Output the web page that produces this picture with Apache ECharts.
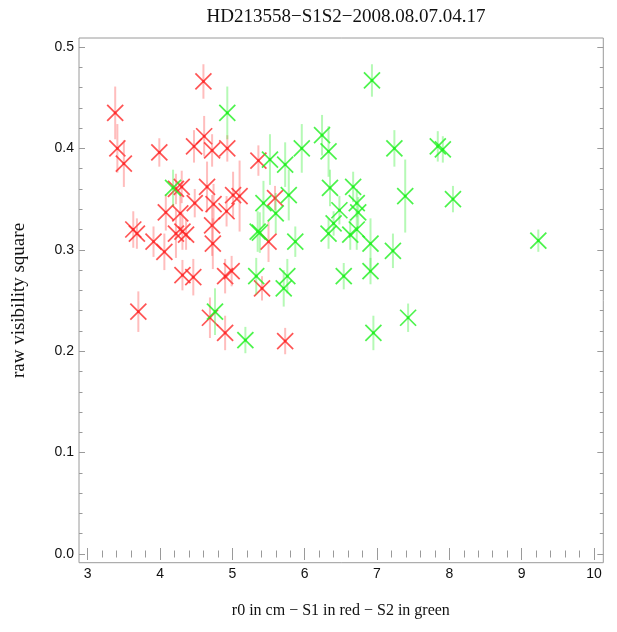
<!DOCTYPE html>
<html>
<head>
<meta charset="utf-8">
<script src="https://cdn.jsdelivr.net/npm/echarts@6/dist/echarts.min.js"></script>
<style>html,body{margin:0;padding:0;background:#fff;}#c{width:617px;height:632px;}</style>
</head>
<body>
<div id="c"></div>
<script>
// S1 (red): r0 in cm, raw visibility square, error half-length
var s1X = [3.38, 3.41, 3.50, 3.99, 4.60, 4.47, 4.61, 4.72, 4.93, 5.36, 4.30, 4.22, 4.65, 4.48, 4.74, 5.01, 5.10, 4.08, 4.28, 4.92, 3.63, 3.68, 3.91, 4.06, 4.22, 4.31, 4.36, 4.72, 4.73, 4.31, 4.46, 4.90, 4.99, 3.70, 4.69, 4.90, 5.41, 5.50, 5.59, 5.73];
var s1Y = [0.435, 0.400, 0.385, 0.396, 0.466, 0.402, 0.412, 0.398, 0.400, 0.388, 0.362, 0.360, 0.362, 0.346, 0.345, 0.354, 0.353, 0.337, 0.336, 0.338, 0.320, 0.316, 0.308, 0.298, 0.316, 0.318, 0.315, 0.324, 0.306, 0.275, 0.273, 0.274, 0.279, 0.239, 0.233, 0.218, 0.262, 0.308, 0.351, 0.210];
var s1Err = [0.026, 0.024, 0.023, 0.014, 0.017, 0.016, 0.020, 0.016, 0.013, 0.015, 0.016, 0.015, 0.025, 0.014, 0.020, 0.023, 0.035, 0.018, 0.020, 0.015, 0.018, 0.015, 0.015, 0.018, 0.024, 0.018, 0.015, 0.030, 0.025, 0.015, 0.018, 0.017, 0.015, 0.020, 0.020, 0.017, 0.012, 0.020, 0.012, 0.013];
// S2 (green)
var s2X = [4.93, 4.18, 6.93, 5.52, 5.73, 5.96, 6.24, 6.33, 7.24, 7.84, 7.91, 7.39, 8.05, 9.23, 7.22, 5.43, 5.78, 6.35, 6.67, 6.48, 6.72, 6.74, 5.60, 6.40, 5.38, 5.35, 6.33, 6.63, 6.72, 5.87, 6.91, 5.33, 5.76, 5.71, 6.54, 6.91, 4.76, 5.18, 6.95, 7.43];
var s2Y = [0.435, 0.361, 0.467, 0.389, 0.384, 0.400, 0.413, 0.397, 0.400, 0.402, 0.399, 0.353, 0.350, 0.309, 0.299, 0.346, 0.354, 0.361, 0.362, 0.339, 0.346, 0.337, 0.336, 0.326, 0.317, 0.318, 0.316, 0.315, 0.320, 0.308, 0.306, 0.274, 0.274, 0.262, 0.274, 0.279, 0.239, 0.211, 0.218, 0.233];
var s2Err = [0.026, 0.018, 0.016, 0.025, 0.022, 0.024, 0.020, 0.025, 0.018, 0.015, 0.013, 0.036, 0.013, 0.011, 0.017, 0.022, 0.025, 0.018, 0.015, 0.014, 0.014, 0.015, 0.020, 0.012, 0.020, 0.020, 0.015, 0.015, 0.020, 0.015, 0.025, 0.018, 0.017, 0.018, 0.013, 0.013, 0.023, 0.013, 0.017, 0.014];
var xTicks = [3, 4, 5, 6, 7, 8, 9, 10];
var yTicks = [0.0, 0.1, 0.2, 0.3, 0.4, 0.5];

function build(xs, ys, es) {
  var out = [];
  for (var i = 0; i < xs.length; i++) out.push([xs[i], ys[i], es[i]]);
  return out;
}

function makeRender(col, errCol) {
  return function (params, api) {
    var x = api.value(0), y = api.value(1), e = api.value(2);
    var c = api.coord([x, y]);
    var t = api.coord([x, y + e]);
    var b = api.coord([x, y - e]);
    var s = 8;
    return {
      type: 'group',
      children: [
        { type: 'line', shape: { x1: c[0], y1: t[1], x2: c[0], y2: b[1] }, style: { stroke: errCol, lineWidth: 2 } },
        { type: 'line', shape: { x1: c[0] - s, y1: c[1] - s, x2: c[0] + s, y2: c[1] + s }, style: { stroke: col, lineWidth: 1.7 } },
        { type: 'line', shape: { x1: c[0] - s, y1: c[1] + s, x2: c[0] + s, y2: c[1] - s }, style: { stroke: col, lineWidth: 1.7 } },
        { type: 'circle', shape: { cx: c[0], cy: c[1], r: 1.4 }, style: { fill: col } }
      ]
    };
  };
}

var frameCol = '#9a9a9a';
var tickBase = {
  type: 'value', gridIndex: 0, min: xTicks[0], max: xTicks[xTicks.length - 1], interval: 1,
  axisLine: { show: false },
  axisTick: { show: true, inside: true, length: 6, lineStyle: { color: frameCol, width: 1 } },
  minorTick: { show: true, splitNumber: 5, length: 3.5, lineStyle: { color: frameCol, width: 1 } },
  splitLine: { show: false }, minorSplitLine: { show: false }
};
var yBase = {
  type: 'value', gridIndex: 0, min: yTicks[0], max: yTicks[yTicks.length - 1], interval: 0.1,
  axisLine: { show: false },
  axisTick: { show: true, inside: true, length: 6, lineStyle: { color: frameCol, width: 1 } },
  minorTick: { show: true, splitNumber: 5, length: 3.5, lineStyle: { color: frameCol, width: 1 } },
  splitLine: { show: false }, minorSplitLine: { show: false }
};
var labelFont = { fontFamily: 'Liberation Sans, Arial, sans-serif', fontSize: 14, color: '#111' };
var serif = 'Liberation Serif, Times New Roman, serif';

var chart = echarts.init(document.getElementById('c'), null, { renderer: 'canvas' });
chart.setOption({
  backgroundColor: '#fff',
  animation: false,
  title: {
    text: 'HD213558\u2212S1S2\u22122008.08.07.04.17',
    left: 341, top: 3, textAlign: 'center',
    textStyle: { fontFamily: serif, fontSize: 19, fontWeight: 'normal', color: '#111' }
  },
  grid: [
    { left: 87.7, right: 23, top: 47, bottom: 78 },
    { left: 79, right: 13.7, top: 38, bottom: 69.3, show: true, borderColor: frameCol, borderWidth: 1, backgroundColor: 'transparent', z: 0 }
  ],
  xAxis: [
    Object.assign({}, tickBase, {
      position: 'bottom', offset: 8.7,
      axisLabel: Object.assign({ margin: 4 }, labelFont),
      name: 'r0 in cm \u2212 S1 in red \u2212 S2 in green', nameLocation: 'middle', nameGap: 40,
      nameTextStyle: { fontFamily: serif, fontSize: 16, color: '#111' }
    }),
    Object.assign({}, tickBase, { position: 'top', offset: 9, axisLabel: { show: false } }),
    { type: 'value', gridIndex: 1, show: false, min: 0, max: 1 }
  ],
  yAxis: [
    Object.assign({}, yBase, {
      position: 'left', offset: 8.7,
      axisLabel: Object.assign({ margin: 5, formatter: function (v) { return v.toFixed(1); } }, labelFont),
      name: 'raw visibility square', nameLocation: 'middle', nameGap: 50, nameRotate: 90,
      nameTextStyle: { fontFamily: serif, fontSize: 19, color: '#111' }
    }),
    Object.assign({}, yBase, { position: 'right', offset: 9.3, axisLabel: { show: false } }),
    { type: 'value', gridIndex: 1, show: false, min: 0, max: 1 }
  ],
  series: [
    {
      type: 'custom', name: 'S1', xAxisIndex: 0, yAxisIndex: 0, z: 3,
      renderItem: makeRender('rgba(255,40,40,0.8)', 'rgba(255,90,90,0.4)'),
      encode: { x: 0, y: 1 },
      data: build(s1X, s1Y, s1Err)
    },
    {
      type: 'custom', name: 'S2', xAxisIndex: 0, yAxisIndex: 0, z: 4,
      renderItem: makeRender('rgba(30,240,30,0.8)', 'rgba(70,240,70,0.4)'),
      encode: { x: 0, y: 1 },
      data: build(s2X, s2Y, s2Err)
    }
  ]
});
</script>
</body>
</html>
